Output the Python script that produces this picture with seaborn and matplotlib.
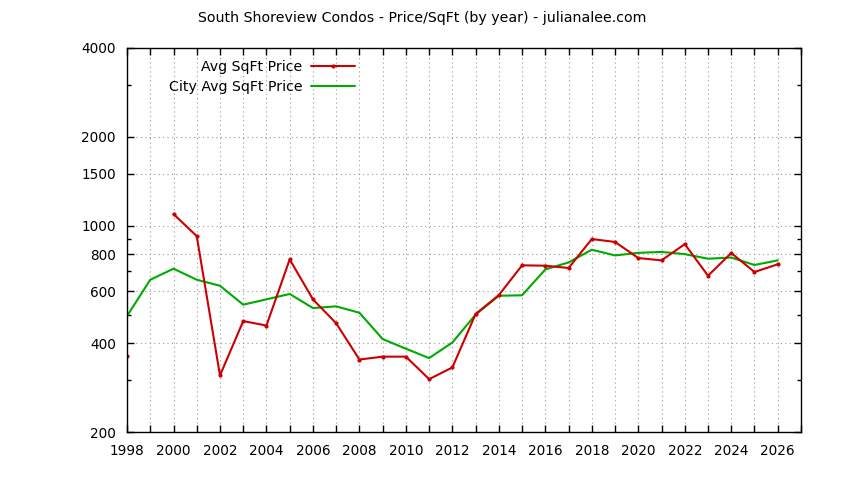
import numpy as np
import pandas as pd
import matplotlib
matplotlib.use("Agg")
import matplotlib.pyplot as plt
from matplotlib.lines import Line2D
from matplotlib.ticker import FixedLocator, FuncFormatter, NullFormatter
import seaborn as sns

# data
years = list(range(1998, 2027))
avg_sqft = [362, np.nan, 1095, 922, 311, 475, 459, 769, 563, 467,
            352, 360, 360, 302, 331, 502, 582, 734, 732, 719,
            901, 881, 777, 763, 866, 677, 808, 697, 740]
city_avg_sqft = [494, 656, 715, 656, 626, 540, 563, 587, 526, 533,
                 507, 413, 383, 356, 402, 500, 579, 581, 711, 751,
                 829, 793, 809, 815, 801, 773, 780, 736, 763]
y_major = [200, 400, 600, 800, 1000, 1500, 2000, 4000]
y_minor = [300, 500, 700, 900, 3000]

red = "#cc0000"
green = "#00aa00"

df = pd.DataFrame({"year": years, "avg": avg_sqft, "city": city_avg_sqft})
# break the red line where a year is missing
df["seg"] = df["avg"].isna().cumsum()

sns.set_style("ticks")
plt.rcParams["font.family"] = ["DejaVu Sans"]
plt.rcParams["font.size"] = 10
plt.rcParams["text.color"] = "black"

fig = plt.figure(figsize=(8.44, 4.8), dpi=100)
ax = fig.add_axes([0.1505, 0.1, 0.7985, 0.8])

sns.lineplot(data=df, x="year", y="city", color=green, linewidth=1.5, ax=ax)
sns.lineplot(data=df.dropna(), x="year", y="avg", units="seg", estimator=None,
             color=red, linewidth=1.5, marker="o", markersize=3,
             markeredgewidth=0, ax=ax)

ax.set_yscale("log")
ax.set_ylim(200, 4000)
ax.set_xlim(1998, 2027)
ax.yaxis.set_major_locator(FixedLocator(y_major))
ax.yaxis.set_minor_locator(FixedLocator(y_minor))
ax.yaxis.set_major_formatter(FuncFormatter(lambda v, p: f"{v:.0f}"))
ax.yaxis.set_minor_formatter(NullFormatter())
ax.xaxis.set_major_locator(FixedLocator(years + [2027]))
ax.xaxis.set_major_formatter(FuncFormatter(lambda v, p: f"{v:.0f}" if int(v) % 2 == 0 and v <= 2026 else ""))

ax.set_xlabel("")
ax.set_ylabel("")
for s in ax.spines.values():
    s.set_visible(True)
    s.set_linewidth(1.0)
    s.set_color("black")
ax.tick_params(which="both", direction="in", top=True, right=True, labelsize=9.8, colors="black")
ax.tick_params(which="major", length=5, width=1)
ax.tick_params(which="minor", length=3, width=1)
ax.tick_params(axis="x", which="major", pad=8.5)
ax.tick_params(axis="y", which="major", pad=8)
ax.grid(True, which="major", color="#999999", linestyle=(0, (1, 3)), linewidth=0.8)

handles = [Line2D([], [], color=red, linewidth=1.5, marker="o", markersize=3, markeredgewidth=0),
           Line2D([], [], color=green, linewidth=1.5)]
leg = ax.legend(handles, ["Avg SqFt Price", "City Avg SqFt Price"], loc="upper left",
                bbox_to_anchor=(0.043, 1.002), frameon=False, markerfirst=False,
                fontsize=10.2, handlelength=3.1, labelspacing=0.42, handletextpad=0.6)
for t in leg.get_texts():
    t.set_color("black")

fig.suptitle("South Shoreview Condos - Price/SqFt (by year) - julianalee.com",
             x=0.5, y=1 - 18 / 480, va="center", fontsize=10.2, color="black")

fig.savefig("out.png", dpi=100)
